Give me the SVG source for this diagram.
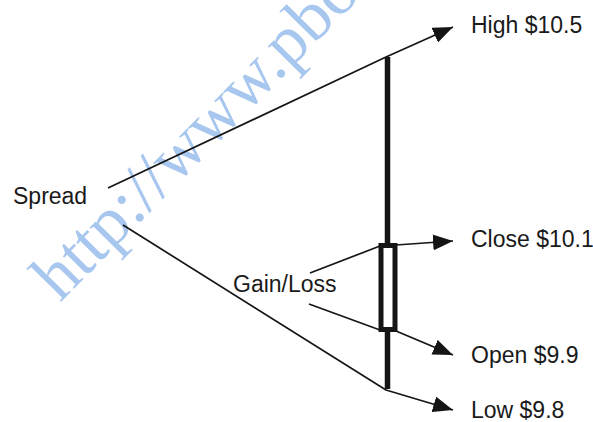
<svg xmlns="http://www.w3.org/2000/svg" width="593" height="422" viewBox="0 0 593 422">
  <style>
    .label { font-family: "Liberation Sans", Arial, sans-serif; font-size: 23px; fill: #1a1a1a; }
    .wire { fill: none; stroke: #151515; stroke-width: 1.7; stroke-linejoin: round; }
    .candle { fill: none; stroke: #151515; stroke-width: 5.5; }
    .mark { font-family: "Liberation Serif", "Times New Roman", serif; font-size: 69px; fill: #a8c7ef; }
  </style>
  <defs>
    <marker id="arrow" viewBox="0 0 20 16" refX="20" refY="8" markerWidth="20" markerHeight="16" markerUnits="userSpaceOnUse" orient="auto">
      <path d="M0,0 L20,8 L0,16 z" fill="#151515"/>
    </marker>
  </defs>

  <rect width="593" height="422" fill="#ffffff"/>

  <!-- background stamp -->
  <text class="mark" transform="translate(60,303) rotate(-45.5)">http://www.pbo</text>

  <!-- candlestick body and wick -->
  <g id="candle">
    <line class="candle" x1="387.5" y1="57" x2="387.5" y2="389"/>
    <rect x="381" y="245.5" width="14" height="84" fill="#ffffff" stroke="#151515" stroke-width="5"/>
  </g>

  <g id="connectors">
    <path class="wire" d="M108,188 L386,57 L453,27" marker-end="url(#arrow)"/>
    <path class="wire" d="M123,225 L386,390 L453,410" marker-end="url(#arrow)"/>
    <path class="wire" d="M310,273 L380,246"/>
    <path class="wire" d="M309,304 L380,330"/>
    <path class="wire" d="M396,245 L453,241" marker-end="url(#arrow)"/>
    <path class="wire" d="M396,331 L453,355" marker-end="url(#arrow)"/>
  </g>

  <g id="spread"><text class="label" x="13" y="204">Spread</text></g>
  <g id="gain-loss"><text class="label" x="233" y="292">Gain/Loss</text></g>
  <g id="high"><text class="label" x="471" y="33">High $10.5</text></g>
  <g id="close"><text class="label" x="471" y="247">Close $10.1</text></g>
  <g id="open"><text class="label" x="471" y="363">Open $9.9</text></g>
  <g id="low"><text class="label" x="471" y="418">Low $9.8</text></g>
</svg>
